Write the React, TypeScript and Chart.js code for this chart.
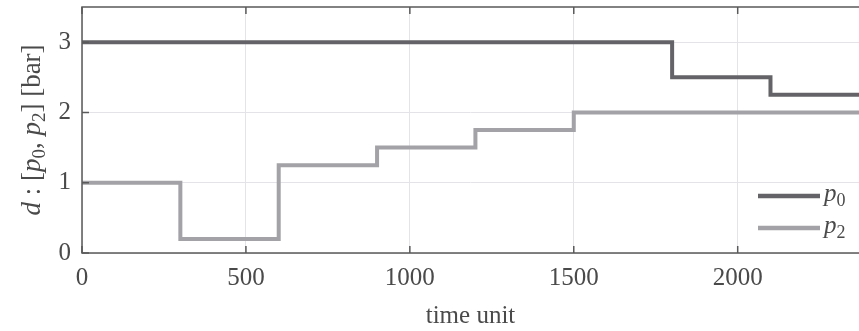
import React, { useEffect, useRef } from "react";
import { Chart, registerables } from "chart.js";

Chart.register(...registerables);

const p0Times = [0, 1800, 2100, 2400];
const p0Values = [3, 2.5, 2.25, 2.25];
const p2Times = [0, 300, 600, 900, 1200, 1500, 2400];
const p2Values = [1, 0.2, 1.25, 1.5, 1.75, 2, 2];
const xTicks = [0, 500, 1000, 1500, 2000];
const yTicks = [0, 1, 2, 3];
const seriesNames = ["p0", "p2"];

const C0 = "#646468";
const C2 = "#a2a2a7";
const TEXT = "#4a4a4a";
const AXIS = "#5a5a5a";
const FONT = "'Liberation Serif', 'DejaVu Serif', serif";
const FS = 25;

function setFont(ctx: CanvasRenderingContext2D, kind: string, fs: number) {
  if (kind === "i") ctx.font = `italic ${fs}px ${FONT}`;
  else if (kind === "s") ctx.font = `${Math.round(fs * 0.7)}px ${FONT}`;
  else ctx.font = `${fs}px ${FONT}`;
}

function drawMath(ctx: CanvasRenderingContext2D, parts: [string, string][], x: number, y: number, fs: number) {
  let cx = x;
  for (const [t, kind] of parts) {
    setFont(ctx, kind, fs);
    const dy = kind === "s" ? fs * 0.2 : 0;
    ctx.fillText(t, cx, y + dy);
    cx += ctx.measureText(t).width;
  }
  return cx - x;
}

function mathWidth(ctx: CanvasRenderingContext2D, parts: [string, string][], fs: number) {
  let w = 0;
  for (const [t, kind] of parts) {
    setFont(ctx, kind, fs);
    w += ctx.measureText(t).width;
  }
  return w;
}

const decorPlugin = {
  id: "decor",
  afterDraw(chart: any) {
    const ctx = chart.ctx as CanvasRenderingContext2D;
    const { left, right, top, bottom } = chart.chartArea;
    const xs = chart.scales.x;
    const ys = chart.scales.y;
    ctx.save();
    ctx.strokeStyle = AXIS;
    ctx.lineWidth = 1.5;
    ctx.beginPath();
    ctx.moveTo(right + 2, top);
    ctx.lineTo(left, top);
    ctx.lineTo(left, bottom);
    ctx.lineTo(right + 2, bottom);
    ctx.stroke();
    ctx.beginPath();
    for (const v of xTicks) {
      const px = xs.getPixelForValue(v);
      ctx.moveTo(px, bottom);
      ctx.lineTo(px, bottom - 7);
      ctx.moveTo(px, top);
      ctx.lineTo(px, top + 7);
    }
    for (const v of yTicks) {
      const py = ys.getPixelForValue(v);
      ctx.moveTo(left, py);
      ctx.lineTo(left + 7, py);
    }
    ctx.stroke();

    // legend
    const colors = [C0, C2];
    const lx0 = right - 101;
    const lx1 = right - 39;
    const ly = [bottom - 57, bottom - 25];
    ctx.fillStyle = TEXT;
    ctx.textBaseline = "alphabetic";
    seriesNames.forEach((name, i) => {
      ctx.strokeStyle = colors[i];
      ctx.lineWidth = 4.5;
      ctx.beginPath();
      ctx.moveTo(lx0, ly[i]);
      ctx.lineTo(lx1, ly[i]);
      ctx.stroke();
      drawMath(ctx, [[name[0], "i"], [name.slice(1), "s"]], lx1 + 4, ly[i] + 5, FS);
    });

    // y title
    const tfs = 27;
    const parts: [string, string][] = [
      ["d", "i"], [" : [", "n"], ["p", "i"], ["0", "s"], [", ", "n"], ["p", "i"], ["2", "s"], ["] [bar]", "n"],
    ];
    const w = mathWidth(ctx, parts, tfs);
    ctx.translate(40, (top + bottom) / 2);
    ctx.rotate(-Math.PI / 2);
    drawMath(ctx, parts, -w / 2, 0, tfs);
    ctx.restore();
  },
};

export default function App() {
  const ref = useRef<HTMLCanvasElement>(null);
  useEffect(() => {
    document.body.style.margin = "0";
    const chart = new Chart(ref.current!, {
      type: "line",
      data: {
        datasets: [
          {
            label: seriesNames[0],
            data: p0Times.map((t, i) => ({ x: t, y: p0Values[i] })),
            borderColor: C0,
            borderWidth: 4,
            stepped: "before",
            pointRadius: 0,
            fill: false,
          },
          {
            label: seriesNames[1],
            data: p2Times.map((t, i) => ({ x: t, y: p2Values[i] })),
            borderColor: C2,
            borderWidth: 4,
            stepped: "before",
            pointRadius: 0,
            fill: false,
          },
        ],
      },
      options: {
        animation: false,
        responsive: false,
        layout: { padding: { top: 7, right: 0, left: 0, bottom: 0 } },
        plugins: { legend: { display: false }, tooltip: { enabled: false } },
        scales: {
          x: {
            type: "linear",
            min: 0,
            max: 2370,
            afterBuildTicks: (s: any) => {
              s.ticks = xTicks.map((v) => ({ value: v }));
            },
            afterFit: (s: any) => {
              s.height = 78;
              s.paddingLeft = 0;
              s.paddingRight = 0;
            },
            grid: { color: "#e4e4e8", lineWidth: 1, drawTicks: false },
            border: { display: false },
            ticks: {
              color: TEXT,
              font: { family: FONT, size: FS },
              padding: 10,
              maxRotation: 0,
              callback: (v: any) => String(v),
            },
            title: {
              display: true,
              text: "time unit",
              color: TEXT,
              font: { family: FONT, size: FS },
              padding: { top: 0, bottom: 0 },
            },
          },
          y: {
            type: "linear",
            min: 0,
            max: 3.5,
            afterBuildTicks: (s: any) => {
              s.ticks = yTicks.map((v) => ({ value: v }));
            },
            afterFit: (s: any) => {
              s.width = 82;
              s.paddingTop = 0;
              s.paddingBottom = 0;
            },
            grid: { color: "#e4e4e8", lineWidth: 1, drawTicks: false },
            border: { display: false },
            ticks: {
              color: TEXT,
              font: { family: FONT, size: FS },
              padding: 11,
              callback: (v: any) => String(v),
            },
          },
        },
      },
      plugins: [decorPlugin],
    } as any);
    return () => chart.destroy();
  }, []);
  return <canvas ref={ref} width={859} height={331} style={{ display: "block" }} />;
}
